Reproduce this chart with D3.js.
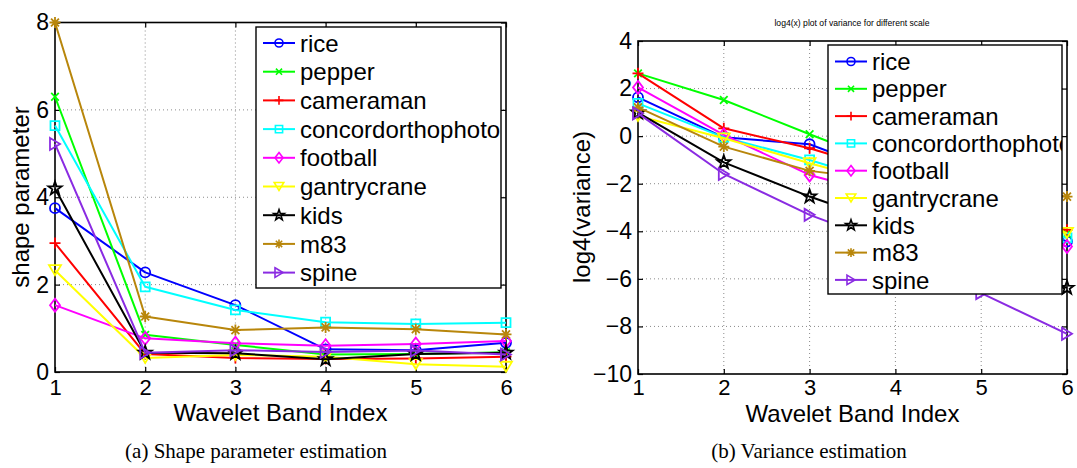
<!DOCTYPE html>
<html>
<head>
<meta charset="utf-8">
<script src="https://cdn.jsdelivr.net/npm/d3@7"></script>
<style>
  html, body { margin: 0; padding: 0; background: #fff; }
  svg { display: block; font-family: "Liberation Sans", Arial, Helvetica, sans-serif; }
</style>
</head>
<body>
<svg id="fig" width="1077" height="468"></svg>
<script>
// Wavelet band indices (x axis of both panels)
const bands = [1, 2, 3, 4, 5, 6];

// Image names, in legend order
const images = ["rice", "pepper", "cameraman", "concordorthophoto", "football",
                "gantrycrane", "kids", "m83", "spine"];

// Panel (a): estimated GGD shape parameter per band
const shapeRice      = [3.75, 2.28, 1.53, 0.52, 0.50, 0.67];
const shapePepper    = [6.30, 0.85, 0.62, 0.40, 0.41, 0.45];
const shapeCameraman = [2.95, 0.41, 0.32, 0.30, 0.31, 0.35];
const shapeConcord   = [5.64, 1.95, 1.42, 1.14, 1.10, 1.13];
const shapeFootball  = [1.53, 0.77, 0.66, 0.60, 0.64, 0.71];
const shapeGantry    = [2.33, 0.32, 0.39, 0.35, 0.18, 0.12];
const shapeKids      = [4.20, 0.44, 0.43, 0.29, 0.41, 0.44];
const shapeM83       = [8.00, 1.27, 0.96, 1.02, 0.98, 0.86];
const shapeSpine     = [5.22, 0.44, 0.50, 0.46, 0.49, 0.40];

// Panel (b): log4 of the estimated variance per band
const varRice      = [1.63, -0.05, -0.34, -1.70, -3.10, -4.43];
const varPepper    = [2.64,  1.52,  0.08, -1.30, -2.70, -4.10];
const varCameraman = [2.64,  0.33, -0.51, -1.60, -2.80, -3.94];
const varConcord   = [1.38, -0.05, -1.00, -2.10, -3.20, -4.28];
const varFootball  = [2.05,  0.05, -1.63, -2.60, -3.60, -4.64];
const varGantry    = [0.85, -0.09, -1.14, -2.10, -3.10, -4.07];
const varKids      = [0.99, -1.10, -2.54, -3.80, -5.10, -6.38];
const varM83       = [1.21, -0.44, -1.46, -1.90, -2.20, -2.54];
const varSpine     = [0.96, -1.59, -3.31, -4.65, -6.60, -8.31];

// Tick labels
const xTicks = [1, 2, 3, 4, 5, 6];
const shapeTicks = [0, 2, 4, 6, 8];
const varTicks = [-10, -8, -6, -4, -2, 0, 2, 4];

// MATLAB-style colour and marker per image
const colors = ["#0000ff", "#00ff00", "#ff0000", "#00ffff", "#ff00ff",
                "#ffff00", "#000000", "#b8860b", "#8a2be2"];
const markers = ["circle", "x", "plus", "square", "diamond",
                 "triangleDown", "star", "asterisk", "triangleRight"];

const shapeSeries = [shapeRice, shapePepper, shapeCameraman, shapeConcord, shapeFootball,
                     shapeGantry, shapeKids, shapeM83, shapeSpine];
const varSeries = [varRice, varPepper, varCameraman, varConcord, varFootball,
                   varGantry, varKids, varM83, varSpine];

// Path for a marker of the given kind, centred on the origin, scaled by s
function markerPath(kind, s) {
  const p = d3.path();
  switch (kind) {
    case "circle": {
      const r = 5 * s; p.moveTo(r, 0); p.arc(0, 0, r, 0, 2 * Math.PI); break;
    }
    case "x": {
      const r = 3.8 * s; p.moveTo(-r, -r); p.lineTo(r, r); p.moveTo(-r, r); p.lineTo(r, -r); break;
    }
    case "plus": {
      const r = 5.5 * s; p.moveTo(-r, 0); p.lineTo(r, 0); p.moveTo(0, -r); p.lineTo(0, r); break;
    }
    case "square": {
      const r = 4.5 * s; p.rect(-r, -r, 2 * r, 2 * r); break;
    }
    case "diamond": {
      const w = 5 * s, h = 6.5 * s;
      p.moveTo(0, -h); p.lineTo(w, 0); p.lineTo(0, h); p.lineTo(-w, 0); p.closePath(); break;
    }
    case "triangleDown": {
      const w = 6 * s, h = 5 * s;
      p.moveTo(-w, -h); p.lineTo(w, -h); p.lineTo(0, h); p.closePath(); break;
    }
    case "triangleRight": {
      const w = 5 * s, h = 6 * s;
      p.moveTo(-w, -h); p.lineTo(w, 0); p.lineTo(-w, h); p.closePath(); break;
    }
    case "star": {
      const ro = 7 * s, ri = ro * 0.4;
      for (let i = 0; i < 10; i++) {
        const r = i % 2 === 0 ? ro : ri;
        const a = -Math.PI / 2 + i * Math.PI / 5;
        const px = r * Math.cos(a), py = r * Math.sin(a);
        if (i === 0) p.moveTo(px, py); else p.lineTo(px, py);
      }
      p.closePath(); break;
    }
    case "asterisk": {
      const r = 5.5 * s, d = r * 0.72;
      p.moveTo(-r, 0); p.lineTo(r, 0); p.moveTo(0, -r); p.lineTo(0, r);
      p.moveTo(-d, -d); p.lineTo(d, d); p.moveTo(-d, d); p.lineTo(d, -d); break;
    }
  }
  return p.toString();
}

const svg = d3.select("#fig");

function drawPanel(opt) {
  const x = d3.scaleLinear().domain([1, 6]).range([opt.left, opt.right]);
  const y = d3.scaleLinear().domain(opt.yDomain).range([opt.bottom, opt.top]);
  const g = svg.append("g");
  const w = opt.right - opt.left, h = opt.bottom - opt.top;

  // dotted grid
  const grid = g.append("g").attr("stroke", "#8a8a8a").attr("stroke-width", 1)
    .attr("stroke-dasharray", "1,3").attr("fill", "none");
  grid.selectAll("line.vx").data(xTicks.filter(t => t > 1 && t < 6)).join("line")
    .attr("x1", d => x(d)).attr("x2", d => x(d)).attr("y1", opt.top).attr("y2", opt.bottom);
  const yd = opt.yDomain;
  grid.selectAll("line.hy").data(opt.yTicks.filter(t => t > yd[0] && t < yd[1])).join("line")
    .attr("x1", opt.left).attr("x2", opt.right).attr("y1", d => y(d)).attr("y2", d => y(d));

  // inward ticks on all four sides, labels on bottom and left
  const bottomAxis = d3.axisBottom(x).tickValues(xTicks).tickFormat(d3.format("d"))
    .tickSizeInner(-5).tickSizeOuter(0).tickPadding(opt.xPad);
  const leftAxis = d3.axisLeft(y).tickValues(opt.yTicks).tickFormat(d3.format("d"))
    .tickSizeInner(-5).tickSizeOuter(0).tickPadding(6);
  const topAxis = d3.axisTop(x).tickValues(xTicks).tickFormat("").tickSizeInner(-5).tickSizeOuter(0);
  const rightAxis = d3.axisRight(y).tickValues(opt.yTicks).tickFormat("").tickSizeInner(-5).tickSizeOuter(0);

  const axes = [
    g.append("g").attr("transform", `translate(0,${opt.bottom})`).call(bottomAxis),
    g.append("g").attr("transform", `translate(${opt.left},0)`).call(leftAxis),
    g.append("g").attr("transform", `translate(0,${opt.top})`).call(topAxis),
    g.append("g").attr("transform", `translate(${opt.right},0)`).call(rightAxis)
  ];
  axes.forEach(a => {
    a.select(".domain").remove();
    a.selectAll("line").attr("stroke", "#000").attr("stroke-width", 1.2);
    a.selectAll("text").attr("font-size", 23).attr("fill", "#000")
      .attr("font-family", "'Liberation Sans', Arial, sans-serif");
  });
  axes[0].selectAll("text").attr("font-size", 22).attr("dy", "0.71em");

  // axis frame
  g.append("rect").attr("x", opt.left).attr("y", opt.top).attr("width", w).attr("height", h)
    .attr("fill", "none").attr("stroke", "#000").attr("stroke-width", 1.6);

  // series: lines then markers
  const line = d3.line().x((d, i) => x(bands[i])).y(d => y(d));
  opt.series.forEach((vals, k) => {
    const s = g.append("g");
    s.append("path").datum(vals).attr("d", line).attr("fill", "none")
      .attr("stroke", colors[k]).attr("stroke-width", 2).attr("stroke-linejoin", "round");
    s.selectAll("path.mk").data(vals).join("path").attr("class", "mk")
      .attr("transform", (d, i) => `translate(${x(bands[i])},${y(d)})`)
      .attr("d", markerPath(markers[k], 1))
      .attr("fill", "none").attr("stroke", colors[k]).attr("stroke-width", 1.8);
  });

  // axis titles
  g.append("text").attr("x", (opt.left + opt.right) / 2).attr("y", opt.xLabelY)
    .attr("text-anchor", "middle").attr("font-size", 24).text("Wavelet Band Index");
  g.append("text").attr("transform", `translate(${opt.yLabelX},${opt.yLabelY}) rotate(-90)`)
    .attr("text-anchor", "middle").attr("font-size", 24).text(opt.yLabel);

  // legend
  const L = opt.legend;
  const lg = svg.append("g");
  const clipId = "clip" + opt.id;
  lg.append("clipPath").attr("id", clipId).append("rect")
    .attr("x", L.x).attr("y", L.y).attr("width", L.w).attr("height", L.h);
  lg.append("rect").attr("x", L.x).attr("y", L.y).attr("width", L.w).attr("height", L.h)
    .attr("fill", "#fff").attr("stroke", "#000").attr("stroke-width", 1.4);
  images.forEach((name, k) => {
    const cy = L.row0 + k * L.step;
    const row = lg.append("g").attr("clip-path", `url(#${clipId})`);
    row.append("line").attr("x1", L.x + 7).attr("x2", L.x + 39).attr("y1", cy).attr("y2", cy)
      .attr("stroke", colors[k]).attr("stroke-width", 2);
    row.append("path").attr("transform", `translate(${L.x + 23},${cy})`)
      .attr("d", markerPath(markers[k], 0.8)).attr("fill", "none")
      .attr("stroke", colors[k]).attr("stroke-width", 1.6);
    row.append("text").attr("x", L.x + 44).attr("y", cy).attr("dy", "0.36em")
      .attr("font-size", 24).attr("fill", "#000").text(name);
  });
}

drawPanel({
  id: "a", left: 55, right: 506, top: 22.5, bottom: 372,
  yDomain: [0, 8], yTicks: shapeTicks, series: shapeSeries, xPad: 7,
  yLabel: "shape parameter", yLabelX: 29, yLabelY: 197, xLabelY: 421,
  legend: { x: 256, y: 27, w: 245, h: 261, row0: 43, step: 28.7 }
});

drawPanel({
  id: "b", left: 638, right: 1067, top: 41, bottom: 374,
  yDomain: [-10, 4], yTicks: varTicks, series: varSeries, xPad: 5,
  yLabel: "log4(variance)", yLabelX: 590, yLabelY: 207, xLabelY: 422,
  legend: { x: 828, y: 45, w: 234, h: 249, row0: 61.5, step: 27.3 }
});

// small title above panel (b)
svg.append("text").attr("x", 852).attr("y", 26).attr("text-anchor", "middle")
  .attr("font-size", 8.6).text("log4(x) plot of variance for different scale");

// sub-figure captions
const captions = [
  { text: "(a)  Shape parameter estimation", cx: 256 },
  { text: "(b)  Variance estimation", cx: 809 }
];
svg.selectAll("text.cap").data(captions).join("text").attr("class", "cap")
  .attr("x", d => d.cx).attr("y", 458).attr("text-anchor", "middle")
  .attr("font-family", "'Liberation Serif', 'Times New Roman', serif")
  .attr("font-size", 21).text(d => d.text);
</script>
</body>
</html>
